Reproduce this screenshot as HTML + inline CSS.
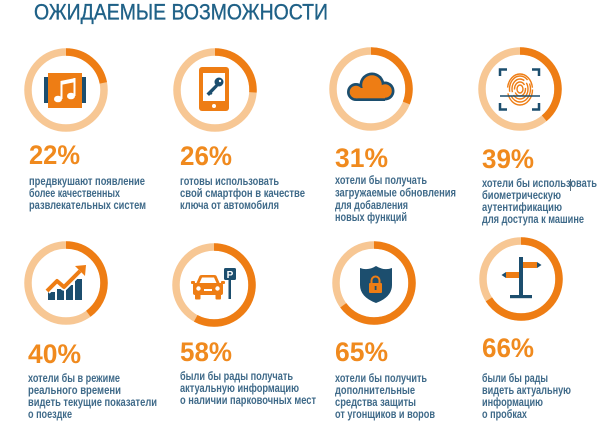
<!DOCTYPE html>
<html>
<head>
<meta charset="utf-8">
<style>
  html,body{margin:0;padding:0;background:#fff;}
  svg{display:block;}
  .t{font-family:"Liberation Sans","Noto Sans CJK SC",sans-serif;}
  .title{font-size:22px;fill:#1f6187;stroke:#1f6187;stroke-width:0.35;}
  .pct{font-size:27px;font-weight:bold;fill:#f08a1e;}
  .d{font-size:11.5px;font-weight:bold;fill:#3f6a89;}
</style>
</head>
<body>
<svg width="600" height="425" viewBox="0 0 600 425" xmlns="http://www.w3.org/2000/svg">
  <rect width="600" height="425" fill="#fff"/>
  <text class="t title" x="34" y="19.5" textLength="294" lengthAdjust="spacingAndGlyphs">ОЖИДАЕМЫЕ ВОЗМОЖНОСТИ</text>

  <!-- Rings -->
  <g fill="none" stroke-width="7.5">
    <circle cx="66" cy="90" r="38" stroke="#f7c794"/>
    <circle cx="66" cy="90" r="38" stroke="#ee7d14" pathLength="100" stroke-dasharray="22 100" transform="rotate(-90 66 90)"/>
    <circle cx="215" cy="90" r="38" stroke="#f7c794"/>
    <circle cx="215" cy="90" r="38" stroke="#ee7d14" pathLength="100" stroke-dasharray="26 100" transform="rotate(-90 215 90)"/>
    <circle cx="371" cy="89" r="38" stroke="#f7c794"/>
    <circle cx="371" cy="89" r="38" stroke="#ee7d14" pathLength="100" stroke-dasharray="31 100" transform="rotate(-90 371 89)"/>
    <circle cx="520" cy="89" r="38" stroke="#f7c794"/>
    <circle cx="520" cy="89" r="38" stroke="#ee7d14" pathLength="100" stroke-dasharray="39 100" transform="rotate(-90 520 89)"/>

    <circle cx="66" cy="283" r="38" stroke="#f7c794"/>
    <circle cx="66" cy="283" r="38" stroke="#ee7d14" pathLength="100" stroke-dasharray="40 100" transform="rotate(-90 66 283)"/>
    <circle cx="214" cy="285" r="38" stroke="#f7c794"/>
    <circle cx="214" cy="285" r="38" stroke="#ee7d14" pathLength="100" stroke-dasharray="58 100" transform="rotate(-90 214 285)"/>
    <circle cx="374" cy="283" r="38" stroke="#f7c794"/>
    <circle cx="374" cy="283" r="38" stroke="#ee7d14" pathLength="100" stroke-dasharray="65 100" transform="rotate(-90 374 283)"/>
    <circle cx="521" cy="279" r="38" stroke="#f7c794"/>
    <circle cx="521" cy="279" r="38" stroke="#ee7d14" pathLength="100" stroke-dasharray="66 100" transform="rotate(-90 521 279)"/>
  </g>

  <!-- Icon 1: music -->
  <rect x="44" y="77" width="6" height="26" fill="#1c4e6e"/>
  <rect x="80" y="77" width="6" height="26" fill="#1c4e6e"/>
  <rect x="48" y="73" width="34" height="35" fill="#ee7d14"/>
  <g fill="#fff">
    <ellipse cx="58" cy="99" rx="4" ry="3.3"/>
    <ellipse cx="71" cy="96" rx="4" ry="3.3"/>
    <rect x="60.5" y="81" width="2" height="18"/>
    <rect x="73.5" y="78" width="2" height="18"/>
    <path d="M60.5 81 L75.5 78 L75.5 82 L60.5 85 Z"/>
  </g>

  <!-- Icon 2: phone with key -->
  <rect x="199" y="67" width="30" height="44" rx="3" fill="#ee7d14"/>
  <rect x="203" y="73" width="22" height="28" fill="#fff"/>
  <circle cx="214" cy="106" r="2" fill="#fff"/>
  <g fill="#1c4e6e">
    <circle cx="219" cy="82" r="4.5"/>
    <path d="M216 84 L218 86.5 L209 96 L206.5 93.5 Z"/>
    <path d="M210 91 L212.5 93.5 L211 95 L208.5 92.5 Z"/>
  </g>
  <circle cx="220" cy="81" r="1.2" fill="#fff"/>

  <!-- Icon 3: cloud -->
  <g fill="#1c4e6e">
    <circle cx="356" cy="92" r="9"/>
    <circle cx="372" cy="85" r="12.5"/>
    <circle cx="385" cy="91" r="9.5"/>
    <rect x="356" y="88" width="29" height="13"/>
  </g>
  <g fill="#ee7d14">
    <circle cx="356" cy="92" r="6.3"/>
    <circle cx="372" cy="85" r="9.8"/>
    <circle cx="385" cy="91" r="6.8"/>
    <rect x="356" y="88" width="29" height="10.3"/>
  </g>

  <!-- Icon 4: fingerprint -->
  <g fill="none" stroke="#1c4e6e" stroke-width="2.5">
    <path d="M500 76 V69.5 H507"/>
    <path d="M532 69.5 H539 V76"/>
    <path d="M500 103 V109.5 H507"/>
    <path d="M532 109.5 H539 V103"/>
  </g>
  <g fill="none" stroke="#ee7d14" stroke-width="1.4">
    <ellipse cx="520" cy="89" rx="3" ry="4"/>
    <ellipse cx="520" cy="89" rx="5.5" ry="7" stroke-dasharray="16 3"/>
    <ellipse cx="520" cy="89" rx="8" ry="10" stroke-dasharray="22 3"/>
    <ellipse cx="520" cy="89" rx="10.5" ry="13" stroke-dasharray="30 4"/>
    <ellipse cx="520" cy="89.5" rx="12.5" ry="15.5" stroke-dasharray="40 6"/>
  </g>
  <line x1="500" y1="96" x2="540" y2="96" stroke="#1c4e6e" stroke-width="1.6"/>

  <!-- Icon 5: chart -->
  <g fill="#1c4e6e">
    <rect x="48" y="292" width="7" height="8"/>
    <rect x="57" y="289" width="7" height="11"/>
    <rect x="66" y="285" width="7" height="15"/>
    <rect x="75" y="279" width="7" height="21"/>
  </g>
  <polyline points="47,291 57,281 64,287 80,271" fill="none" stroke="#fff" stroke-width="7.5" stroke-linejoin="round"/>
  <polyline points="47,291 57,281 64,287 80,271" fill="none" stroke="#ee7d14" stroke-width="4" stroke-linejoin="round"/>
  <path d="M86 265 L85 276 L75 266 Z" fill="#ee7d14"/>

  <!-- Icon 6: car + parking -->
  <g fill="#ee7d14">
    <path d="M196 284 L199.5 276 Q200 275 202 275 H214 Q216 275 216.5 276 L220 284 Z"/>
    <rect x="193" y="283" width="30" height="12" rx="2"/>
    <rect x="195" y="293" width="5.5" height="6.5" rx="1"/>
    <rect x="215.5" y="293" width="5.5" height="6.5" rx="1"/>
    <rect x="191" y="281" width="4" height="3" rx="1"/>
    <rect x="221" y="281" width="4" height="3" rx="1"/>
  </g>
  <g fill="#fff">
    <path d="M199.5 283 L202 277.5 H214 L216.5 283 Z"/>
    <circle cx="198.5" cy="288.5" r="2.2"/>
    <circle cx="217.5" cy="288.5" r="2.2"/>
    <rect x="204" y="289" width="8" height="2"/>
  </g>
  <rect x="228.5" y="279" width="2.5" height="20" fill="#1c4e6e"/>
  <rect x="224" y="268" width="12" height="12" rx="1.5" fill="#1c4e6e"/>
  <text class="t" x="230" y="277.8" font-size="10" font-weight="bold" fill="#fff" text-anchor="middle">P</text>

  <!-- Icon 7: shield + lock -->
  <path d="M360 268 Q368 271 376 266 Q384 271 392 268 V285 Q392 297 376 303 Q360 297 360 285 Z" fill="#1c4e6e"/>
  <path d="M371.5 284 V280.5 A4 4 0 0 1 379.5 280.5 V284" fill="none" stroke="#ee7d14" stroke-width="2"/>
  <rect x="369" y="283" width="13" height="10" rx="1" fill="#ee7d14"/>
  <rect x="374.7" y="286" width="1.8" height="4" fill="#1c4e6e"/>

  <!-- Icon 8: signpost -->
  <rect x="519" y="257" width="4" height="40" fill="#1c4e6e"/>
  <rect x="510" y="295" width="22" height="3.2" fill="#1c4e6e"/>
  <rect x="523" y="262" width="14" height="6" fill="#ee7d14"/>
  <path d="M537 262 L541.5 265 L537 268 Z" fill="#1c4e6e"/>
  <rect x="506" y="272" width="13" height="6" fill="#ee7d14"/>
  <path d="M506 272 L501.5 275 L506 278 Z" fill="#1c4e6e"/>

  <!-- Percentages -->
  <text class="t pct" x="29" y="164" textLength="51" lengthAdjust="spacingAndGlyphs">22%</text>
  <text class="t pct" x="180" y="165" textLength="52" lengthAdjust="spacingAndGlyphs">26%</text>
  <text class="t pct" x="335" y="167" textLength="53" lengthAdjust="spacingAndGlyphs">31%</text>
  <text class="t pct" x="482" y="168" textLength="52" lengthAdjust="spacingAndGlyphs">39%</text>
  <text class="t pct" x="28" y="363" textLength="53" lengthAdjust="spacingAndGlyphs">40%</text>
  <text class="t pct" x="180" y="361" textLength="52" lengthAdjust="spacingAndGlyphs">58%</text>
  <text class="t pct" x="335" y="361" textLength="53" lengthAdjust="spacingAndGlyphs">65%</text>
  <text class="t pct" x="482" y="357" textLength="52" lengthAdjust="spacingAndGlyphs">66%</text>

  <!-- Descriptions -->
  <g class="t d">
    <text x="29" y="185" textLength="116" lengthAdjust="spacingAndGlyphs">предвкушают появление</text>
    <text x="29" y="197" textLength="91" lengthAdjust="spacingAndGlyphs">более качественных</text>
    <text x="29" y="209" textLength="117" lengthAdjust="spacingAndGlyphs">развлекательных систем</text>

    <text x="180" y="185" textLength="99" lengthAdjust="spacingAndGlyphs">готовы использовать</text>
    <text x="180" y="197" textLength="125" lengthAdjust="spacingAndGlyphs">свой смартфон в качестве</text>
    <text x="180" y="209" textLength="99" lengthAdjust="spacingAndGlyphs">ключа от автомобиля</text>

    <text x="335" y="184" textLength="92" lengthAdjust="spacingAndGlyphs">хотели бы получать</text>
    <text x="335" y="196.5" textLength="121" lengthAdjust="spacingAndGlyphs">загружаемые обновления</text>
    <text x="335" y="209" textLength="73" lengthAdjust="spacingAndGlyphs">для добавления</text>
    <text x="335" y="221" textLength="72" lengthAdjust="spacingAndGlyphs">новых функций</text>

    <text x="482" y="187" textLength="115" lengthAdjust="spacingAndGlyphs">хотели бы использовать</text>
    <text x="482" y="199" textLength="79" lengthAdjust="spacingAndGlyphs">биометрическую</text>
    <text x="482" y="211" textLength="80" lengthAdjust="spacingAndGlyphs">аутентификацию</text>
    <text x="482" y="223" textLength="102" lengthAdjust="spacingAndGlyphs">для доступа к машине</text>

    <text x="28" y="382" textLength="92" lengthAdjust="spacingAndGlyphs">хотели бы в режиме</text>
    <text x="28" y="394" textLength="93" lengthAdjust="spacingAndGlyphs">реального времени</text>
    <text x="28" y="406" textLength="129" lengthAdjust="spacingAndGlyphs">видеть текущие показатели</text>
    <text x="28" y="418" textLength="44" lengthAdjust="spacingAndGlyphs">о поездке</text>

    <text x="180" y="380" textLength="113" lengthAdjust="spacingAndGlyphs">были бы рады получать</text>
    <text x="180" y="392" textLength="119" lengthAdjust="spacingAndGlyphs">актуальную информацию</text>
    <text x="180" y="404" textLength="136" lengthAdjust="spacingAndGlyphs">о наличии парковочных мест</text>

    <text x="335" y="382" textLength="92" lengthAdjust="spacingAndGlyphs">хотели бы получить</text>
    <text x="335" y="394" textLength="80" lengthAdjust="spacingAndGlyphs">дополнительные</text>
    <text x="335" y="406" textLength="81" lengthAdjust="spacingAndGlyphs">средства защиты</text>
    <text x="335" y="418" textLength="100" lengthAdjust="spacingAndGlyphs">от угонщиков и воров</text>

    <text x="482" y="382" textLength="66" lengthAdjust="spacingAndGlyphs">были бы рады</text>
    <text x="482" y="394" textLength="89" lengthAdjust="spacingAndGlyphs">видеть актуальную</text>
    <text x="482" y="406" textLength="61" lengthAdjust="spacingAndGlyphs">информацию</text>
    <text x="482" y="418" textLength="45" lengthAdjust="spacingAndGlyphs">о пробках</text>
  </g>
  <!-- cursor artifact -->
  <line x1="570.5" y1="179" x2="570.5" y2="191" stroke="#2b4a60" stroke-width="0.8"/>
</svg>
</body>
</html>
